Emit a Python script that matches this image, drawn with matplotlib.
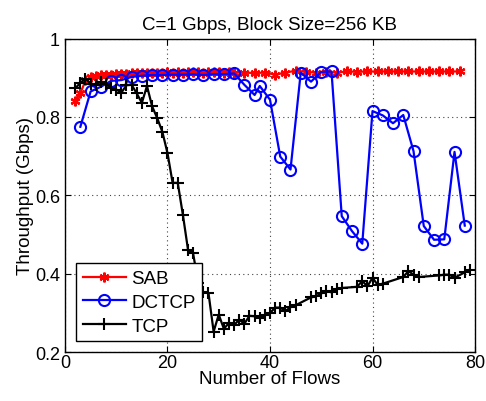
import numpy as np
import matplotlib
matplotlib.use('Agg')
import matplotlib.pyplot as plt

plt.rcParams['font.family'] = ['Liberation Sans', 'DejaVu Sans']

# SAB: every flow up to 33, then odd flow counts
sab_x = list(range(2, 34)) + list(range(35, 78, 2))
sab_y = [0.840, 0.860, 0.893, 0.902, 0.905, 0.906, 0.908, 0.907, 0.909, 0.910,
         0.909, 0.911, 0.912, 0.911, 0.912, 0.913, 0.912, 0.913, 0.914, 0.913,
         0.914, 0.913, 0.914, 0.915, 0.914, 0.913, 0.914, 0.915, 0.914, 0.913,
         0.914, 0.913,
         0.913, 0.912, 0.913, 0.908, 0.913, 0.918, 0.915, 0.913, 0.914, 0.913,
         0.916, 0.915, 0.916, 0.916, 0.916, 0.916, 0.916, 0.916, 0.916, 0.916,
         0.916, 0.916]

dctcp_x = [3, 5, 7, 9, 11, 13, 15, 17, 19, 21, 23, 25, 27, 29, 31, 33, 35, 37,
           38, 40, 42, 44, 46, 48, 50, 52, 54, 56, 58, 60, 62, 64, 66, 68, 70,
           72, 74, 76, 78]
dctcp_y = [0.775, 0.865, 0.877, 0.892, 0.894, 0.902, 0.905, 0.907, 0.907, 0.908,
           0.908, 0.909, 0.907, 0.909, 0.909, 0.911, 0.882, 0.856, 0.879, 0.844,
           0.699, 0.666, 0.913, 0.890, 0.915, 0.916, 0.547, 0.509, 0.477, 0.815,
           0.804, 0.784, 0.805, 0.713, 0.522, 0.487, 0.488, 0.711, 0.523]

tcp_x = [2, 3, 4, 5, 6, 7, 8, 9, 10, 11, 12, 13, 14, 15, 16, 17, 18, 19, 20,
         21, 22, 23, 24, 25, 26, 27, 28, 29, 30, 31, 32, 33, 34, 35, 36, 37,
         38, 39, 40, 41, 42, 43, 44, 45, 48, 49, 50, 51, 52, 53, 54, 57, 58,
         59, 60, 61, 62, 66, 67, 68, 69, 73, 74, 75, 76, 78, 79]
tcp_y = [0.873, 0.887, 0.898, 0.885, 0.882, 0.890, 0.885, 0.875, 0.870, 0.862,
         0.881, 0.882, 0.860, 0.836, 0.879, 0.827, 0.797, 0.762, 0.708, 0.632,
         0.632, 0.551, 0.462, 0.452, 0.377, 0.353, 0.351, 0.253, 0.296, 0.260,
         0.275, 0.270, 0.283, 0.273, 0.293, 0.292, 0.288, 0.294, 0.300, 0.314,
         0.314, 0.305, 0.315, 0.320, 0.340, 0.343, 0.350, 0.356, 0.353, 0.361,
         0.364, 0.367, 0.382, 0.368, 0.390, 0.372, 0.375, 0.392, 0.407, 0.398,
         0.392, 0.396, 0.398, 0.398, 0.390, 0.404, 0.411]

fig = plt.figure(figsize=(4.86, 4.02), dpi=100)
ax = fig.add_axes([0.1337, 0.1211, 0.8437, 0.7806])

# matlab style asterisk
ax.plot(sab_x, sab_y, '-', marker=(6, 2, 0), color='red', lw=1.6, ms=7,
        mew=1.6, label='SAB')
ax.plot(dctcp_x, dctcp_y, '-o', color='blue', lw=1.6, ms=8, mew=1.5,
        mfc='none', label='DCTCP')
ax.plot(tcp_x, tcp_y, '-+', color='black', lw=1.6, ms=8, mew=1.5, label='TCP')

ax.set_xlim(0, 80)
ax.set_ylim(0.2, 1)
ax.set_xticks([0, 20, 40, 60, 80])
ax.set_yticks([0.2, 0.4, 0.6, 0.8, 1.0])
ax.set_yticklabels(['0.2', '0.4', '0.6', '0.8', '1'])
ax.grid(True, linestyle=(0, (1, 3)), color='#444444', lw=0.8)
ax.tick_params(direction='in', top=True, right=True, labelsize=13, length=4)
ax.tick_params(axis='x', pad=1.5)
ax.tick_params(axis='y', pad=3.5)
for s in ax.spines.values():
    s.set_linewidth(1.0)

ax.set_title('C=1 Gbps, Block Size=256 KB', fontsize=13.5, pad=7)
ax.set_xlabel('Number of Flows', fontsize=13.5, labelpad=-1)
ax.set_ylabel('Throughput (Gbps)', fontsize=13.5, labelpad=1)

leg = ax.legend(loc='lower left', fontsize=13.5, fancybox=False, framealpha=1,
                edgecolor='black', borderaxespad=0.6, handlelength=2.3,
                handletextpad=0.3, labelspacing=0.35, borderpad=0.35)
leg.get_frame().set_linewidth(1.0)

fig.savefig('out.png', dpi=100)
